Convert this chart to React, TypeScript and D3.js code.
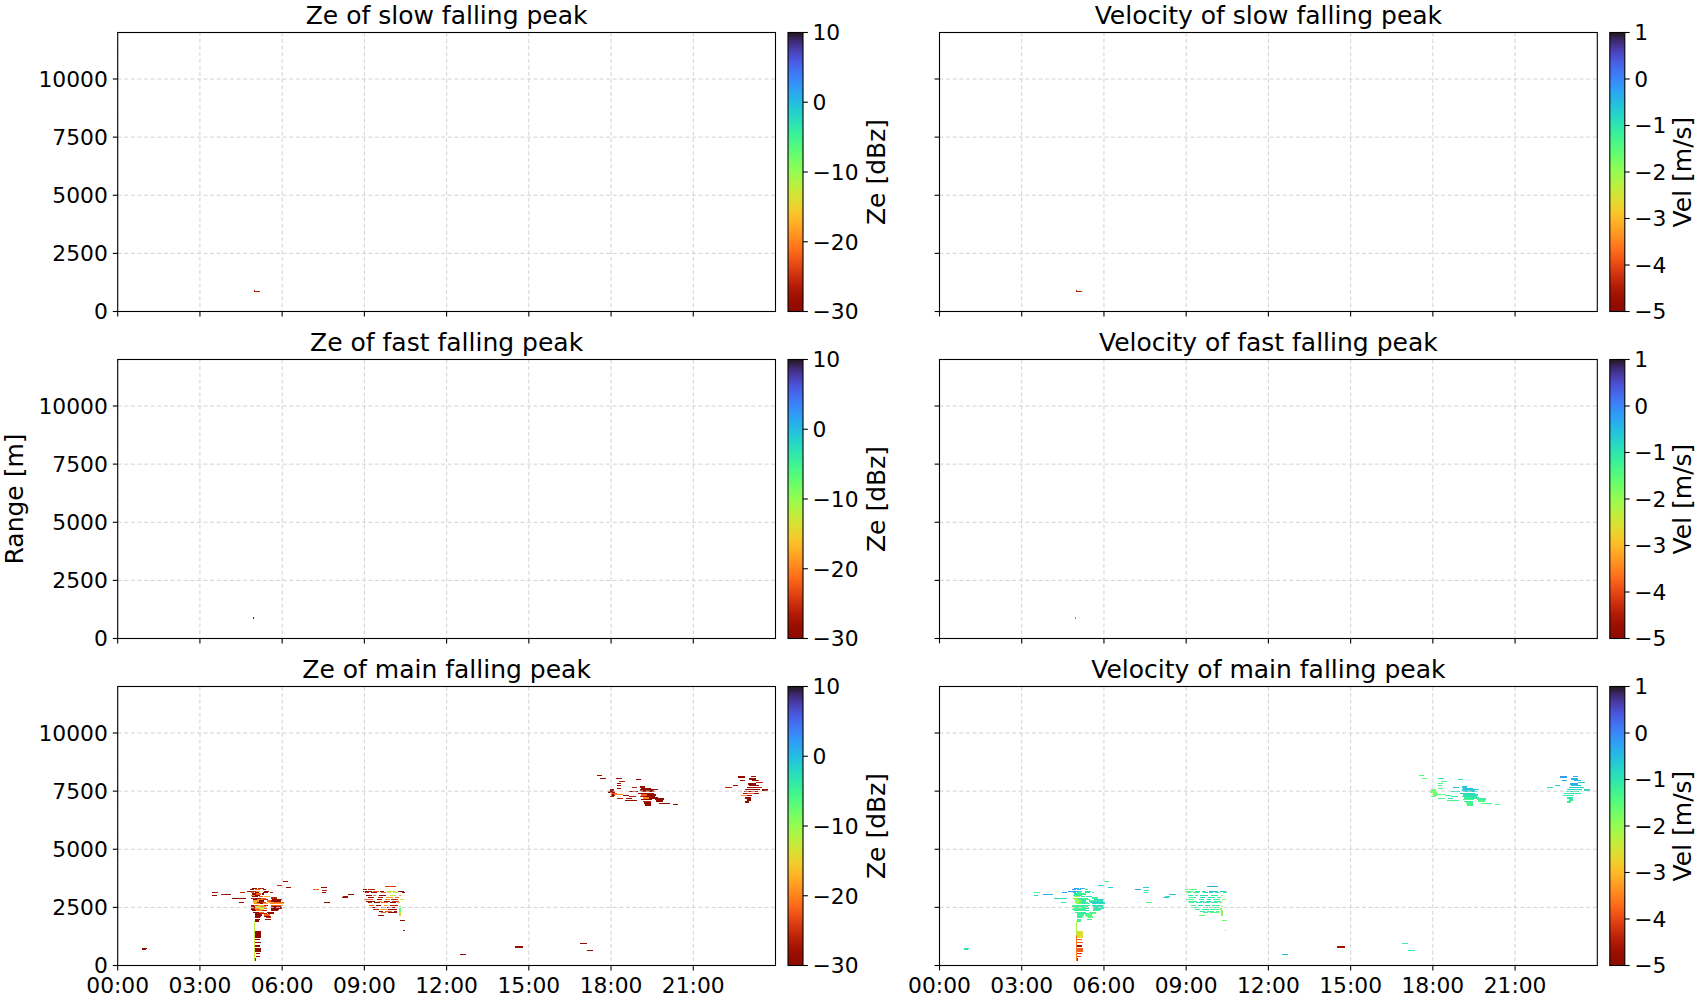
import React from 'react';
import * as d3 from 'd3';

// ---------- axis / scale data ----------
const timeDomain: [number, number] = [0, 24];
const rangeDomain: [number, number] = [0, 12000];
const timeTicks = [0, 3, 6, 9, 12, 15, 18, 21];
const timeTickLabels = ['00:00', '03:00', '06:00', '09:00', '12:00', '15:00', '18:00', '21:00'];
const rangeTicks = [0, 2500, 5000, 7500, 10000];
const zeDomain: [number, number] = [-30, 10];
const velDomain: [number, number] = [-5, 1];
const zeTicks = [10, 0, -10, -20, -30];
const velTicks = [1, 0, -1, -2, -3, -4, -5];

// cell: [time start (h), time end (h), range bottom (m), range top (m), Ze (dBz), Vel (m/s)]
type Cell = [number, number, number, number, number, number];

const slowCells: Cell[] = [
  [4.97, 5.19, 825, 870, -26, -4.4],
  [4.97, 5.0, 870, 910, -27, -4.4],
];

const fastCells: Cell[] = [
  [4.95, 4.99, 860, 905, -30, -3.7],
];

const mainClusterEarly: Cell[] = [
  [0.88, 1.08, 705, 750, -30, -0.9],
  [0.88, 1.05, 655, 700, -30, -1.0],
  [3.43, 3.55, 3130, 3175, -30, -1.3],
  [3.55, 3.65, 3130, 3175, -26, -1.3],
  [3.43, 3.61, 2970, 3015, -30, -0.8],
  [3.77, 3.94, 3040, 3085, -26, -0.3],
  [3.93, 4.15, 3030, 3075, -30, -0.4],
  [4.16, 4.67, 2850, 2895, -30, -0.9],
  [4.43, 4.61, 2680, 2725, -30, -1.1],
  [4.46, 4.65, 3110, 3155, -26, -0.2],
  [4.7, 4.86, 3150, 3195, -30, -0.1],
];

const mainClusterDawn: Cell[] = [
  [4.9, 5.1, 3290, 3340, -30, -0.3],
  [5.13, 5.32, 3290, 3340, -26, -0.5],
  [4.83, 4.98, 3230, 3280, -30, -0.2],
  [5.0, 5.18, 3230, 3280, -22, -0.3],
  [5.3, 5.42, 3230, 3280, -30, -1.2],
  [4.86, 5.05, 3170, 3220, -26, -0.4],
  [5.06, 5.2, 3170, 3220, -18, -0.8],
  [5.32, 5.52, 3150, 3220, -30, -1.0],
  [4.88, 4.98, 3110, 3160, -22, -0.6],
  [5.0, 5.15, 3110, 3160, -30, -1.3],
  [5.3, 5.5, 3110, 3160, -30, -0.9],
  [5.55, 5.65, 3110, 3160, -26, -1.2],
  [4.9, 5.05, 3050, 3100, -30, -1.0],
  [5.05, 5.22, 3050, 3100, -22, -1.2],
  [5.25, 5.35, 3050, 3100, -30, -1.4],
  [4.88, 5.0, 2990, 3040, -20, -1.1],
  [5.02, 5.2, 2990, 3040, -30, -1.0],
  [5.58, 5.8, 2880, 2930, -26, -1.2],
  [4.9, 5.12, 2930, 2980, -30, -2.0],
  [5.15, 5.3, 2930, 2980, -22, -1.1],
  [5.35, 5.55, 2930, 2980, -18, -0.9],
  [4.88, 5.0, 2870, 2920, -26, -2.0],
  [5.02, 5.22, 2870, 2920, -30, -1.0],
  [5.22, 5.42, 2870, 2920, -22, -1.3],
  [4.92, 5.1, 2810, 2860, -30, -2.1],
  [5.1, 5.3, 2810, 2860, -20, -1.2],
  [5.3, 5.5, 2810, 2860, -26, -1.1],
  [5.62, 6.0, 2810, 2860, -30, -0.9],
  [4.95, 5.15, 2750, 2800, -18, -1.9],
  [5.15, 5.35, 2750, 2800, -30, -1.0],
  [5.45, 5.6, 2750, 2800, -22, -1.2],
  [5.6, 5.95, 2750, 2800, -30, -1.0],
  [4.95, 5.1, 2690, 2740, -16, -2.0],
  [5.1, 5.28, 2690, 2740, -30, -1.1],
  [5.28, 5.42, 2690, 2740, -24, -1.2],
  [5.5, 5.7, 2690, 2740, -18, -0.6],
  [5.7, 6.05, 2690, 2740, -22, -0.7],
  [4.98, 5.2, 2630, 2680, -20, -1.8],
  [5.2, 5.3, 2630, 2680, -30, -0.9],
  [5.3, 5.5, 2630, 2680, -18, -1.3],
  [5.55, 5.75, 2630, 2680, -20, -0.8],
  [5.75, 6.05, 2630, 2680, -18, -0.9],
  [4.85, 4.98, 2570, 2620, -30, -1.4],
  [4.98, 5.15, 2570, 2620, -22, -1.2],
  [5.15, 5.35, 2570, 2620, -16, -1.0],
  [5.35, 5.5, 2570, 2620, -26, -1.3],
  [5.58, 6.02, 2570, 2620, -22, -1.0],
  [4.85, 5.0, 2510, 2560, -30, -1.2],
  [5.0, 5.2, 2510, 2560, -13, -1.1],
  [5.2, 5.42, 2510, 2560, -20, -1.3],
  [5.6, 5.95, 2510, 2560, -30, -0.9],
  [4.88, 5.02, 2450, 2500, -26, -1.5],
  [5.02, 5.15, 2450, 2500, -18, -1.4],
  [5.15, 5.32, 2450, 2500, -12, -1.2],
  [5.32, 5.45, 2450, 2500, -22, -1.0],
  [5.6, 6.0, 2450, 2500, -30, -1.0],
  [4.85, 5.0, 2390, 2440, -30, -1.3],
  [5.0, 5.2, 2390, 2440, -22, -1.1],
  [5.2, 5.35, 2390, 2440, -14, -1.2],
  [5.6, 5.9, 2390, 2440, -30, -1.1],
  [4.9, 5.05, 2330, 2380, -30, -1.0],
  [5.05, 5.25, 2330, 2380, -20, -1.3],
  [5.25, 5.45, 2330, 2380, -26, -1.0],
  [5.6, 5.85, 2330, 2380, -30, -1.2],
  [4.95, 5.15, 2270, 2320, -30, -1.2],
  [5.15, 5.35, 2270, 2320, -22, -1.1],
  [5.45, 5.7, 2270, 2320, -30, -1.3],
  [5.0, 5.2, 2210, 2260, -30, -1.1],
  [5.2, 5.45, 2210, 2260, -26, -1.0],
  [5.5, 5.72, 2210, 2260, -30, -1.5],
  [5.0, 5.28, 2150, 2200, -30, -1.3],
  [5.32, 5.55, 2150, 2200, -22, -1.5],
  [5.02, 5.22, 2090, 2140, -30, -1.2],
  [5.35, 5.6, 2090, 2140, -30, -1.6],
  [5.0, 5.2, 2030, 2080, -30, -1.0],
  [5.4, 5.6, 2030, 2080, -26, -1.5],
  [5.0, 5.18, 1960, 2020, -30, -1.2],
  [5.38, 5.58, 1960, 2020, -30, -1.1],
  [5.0, 5.15, 1890, 1950, -30, -1.3],
  [5.8, 6.0, 3420, 3465, -26, -0.8],
  [6.02, 6.2, 3570, 3615, -28, -1.3],
  [6.13, 6.32, 3320, 3365, -30, -0.7],
];

const mainColumn: Cell[] = [
  [4.97, 5.02, 1300, 1900, -12, -2.2],
  [4.97, 5.01, 200, 1300, -13, -3.6],
  [5.02, 5.22, 1200, 1490, -30, -2.6],
  [5.02, 5.2, 1085, 1140, -30, -3.8],
  [5.02, 5.22, 970, 1030, -30, -3.9],
  [5.02, 5.2, 800, 885, -30, -4.8],
  [5.02, 5.22, 600, 745, -30, -3.8],
  [5.03, 5.2, 485, 540, -30, -4.2],
  [5.03, 5.18, 370, 430, -30, -4.0],
  [5.0, 5.05, 180, 320, -28, -4.5],
];

const mainClusterMorning: Cell[] = [
  [7.14, 7.35, 3250, 3295, -22, -0.3],
  [7.42, 7.63, 3330, 3375, -30, -0.7],
  [7.45, 7.63, 3220, 3265, -26, -1.0],
  [7.47, 7.6, 3120, 3165, -30, -1.0],
  [7.54, 7.75, 2690, 2735, -30, -1.5],
  [8.17, 8.39, 2890, 2935, -30, -0.8],
  [8.22, 8.4, 2950, 2995, -30, -0.8],
  [8.39, 8.62, 3040, 3085, -30, -0.5],
  [9.75, 10.15, 3375, 3415, -24, -0.4],
  [8.96, 9.08, 3245, 3285, -30, -1.5],
  [9.12, 9.38, 3245, 3285, -26, -1.6],
  [8.96, 9.26, 3180, 3220, -30, -1.4],
  [9.32, 9.52, 3180, 3220, -22, -1.0],
  [9.58, 9.72, 3180, 3220, -30, -0.9],
  [9.82, 10.16, 3180, 3220, -13, -0.5],
  [10.22, 10.45, 3180, 3220, -30, -0.8],
  [9.02, 9.18, 3100, 3140, -26, -1.3],
  [9.24, 9.46, 3100, 3140, -30, -1.1],
  [9.62, 9.78, 3100, 3140, -22, -0.9],
  [9.82, 9.98, 3100, 3140, -14, -0.8],
  [10.06, 10.22, 3100, 3140, -11, -1.2],
  [10.36, 10.5, 3100, 3140, -30, -1.0],
  [9.06, 9.26, 3010, 3050, -30, -1.0],
  [9.32, 9.44, 3010, 3050, -20, -1.2],
  [9.52, 9.8, 3010, 3050, -30, -0.9],
  [9.92, 10.16, 3010, 3050, -13, -1.1],
  [10.26, 10.34, 3010, 3050, -18, -1.8],
  [9.12, 9.36, 2920, 2960, -30, -1.2],
  [9.5, 9.68, 2920, 2960, -26, -0.9],
  [9.8, 10.06, 2920, 2960, -18, -1.0],
  [10.12, 10.28, 2920, 2960, -22, -1.3],
  [9.0, 9.3, 2840, 2880, -22, -1.4],
  [9.46, 9.66, 2840, 2880, -30, -1.0],
  [9.76, 9.92, 2840, 2880, -20, -0.8],
  [9.98, 10.22, 2840, 2880, -26, -1.1],
  [10.3, 10.44, 2840, 2880, -14, -1.8],
  [9.06, 9.4, 2750, 2790, -30, -1.2],
  [9.5, 9.66, 2750, 2790, -18, -0.9],
  [9.72, 9.92, 2750, 2790, -30, -1.0],
  [10.02, 10.26, 2750, 2790, -24, -1.2],
  [9.12, 9.28, 2670, 2710, -26, -1.3],
  [9.36, 9.56, 2670, 2710, -30, -1.0],
  [9.62, 9.86, 2670, 2710, -22, -0.9],
  [9.92, 10.16, 2670, 2710, -30, -1.1],
  [10.2, 10.3, 2670, 2710, -16, -1.9],
  [9.16, 9.36, 2580, 2620, -22, -1.2],
  [9.42, 9.62, 2580, 2620, -30, -1.0],
  [9.7, 9.88, 2580, 2620, -18, -1.1],
  [9.94, 10.22, 2580, 2620, -26, -1.2],
  [9.22, 9.46, 2495, 2535, -30, -1.1],
  [9.6, 9.78, 2495, 2535, -24, -1.0],
  [9.84, 10.16, 2495, 2535, -30, -1.3],
  [10.27, 10.33, 2495, 2540, -8, -1.9],
  [9.32, 9.52, 2410, 2450, -26, -1.2],
  [9.58, 9.82, 2410, 2450, -18, -1.0],
  [9.88, 10.18, 2410, 2450, -30, -1.3],
  [10.25, 10.32, 2400, 2460, -6, -1.9],
  [9.52, 9.68, 2320, 2360, -30, -1.1],
  [9.76, 10.02, 2320, 2360, -22, -1.2],
  [10.08, 10.2, 2320, 2360, -30, -1.4],
  [10.26, 10.33, 2310, 2370, -8, -1.9],
  [9.62, 9.78, 2240, 2280, -22, -1.3],
  [9.88, 10.18, 2240, 2280, -30, -1.4],
  [10.28, 10.34, 2230, 2290, -12, -1.9],
  [9.48, 9.7, 2130, 2190, -30, -1.6],
  [10.28, 10.33, 2120, 2200, -16, -1.9],
  [10.3, 10.5, 1900, 1950, -30, -1.7],
  [10.42, 10.47, 1500, 1540, -30, -1.6],
];

const mainClusterIsolated: Cell[] = [
  [12.48, 12.71, 450, 500, -30, -0.5],
  [14.5, 14.78, 770, 820, -30, -4.6],
  [16.87, 17.11, 910, 960, -30, -1.2],
  [17.11, 17.35, 630, 680, -30, -1.1],
];

const mainClusterEvening: Cell[] = [
  [17.48, 17.66, 8140, 8190, -30, -1.5],
  [17.6, 17.8, 8020, 8070, -30, -1.6],
  [18.18, 18.4, 8020, 8070, -30, -1.0],
  [18.3, 18.52, 7900, 7950, -26, -1.2],
  [18.2, 18.38, 7810, 7860, -30, -1.4],
  [18.2, 18.35, 7710, 7760, -30, -1.3],
  [18.2, 18.38, 7600, 7650, -30, -1.5],
  [18.9, 19.1, 7970, 8020, -30, -0.9],
  [18.75, 18.95, 7620, 7670, -26, -0.5],
  [19.05, 19.25, 7650, 7700, -30, -0.6],
  [17.95, 18.1, 7520, 7570, -30, -1.6],
  [17.9, 18.15, 7440, 7490, -30, -1.7],
  [18.0, 18.2, 7380, 7430, -22, -1.8],
  [18.0, 18.15, 7310, 7360, -30, -1.6],
  [18.1, 18.45, 7330, 7380, -20, -1.5],
  [17.95, 18.1, 7230, 7280, -26, -1.7],
  [18.2, 18.45, 7170, 7220, -26, -1.4],
  [18.45, 18.65, 7270, 7320, -30, -1.2],
  [18.65, 19.0, 7450, 7500, -30, -0.9],
  [18.65, 18.9, 7260, 7310, -26, -1.1],
  [18.5, 18.95, 7060, 7110, -30, -1.3],
  [18.55, 18.75, 7160, 7210, -30, -1.0],
  [19.1, 19.45, 7590, 7650, -30, -0.5],
  [19.05, 19.55, 7520, 7580, -30, -0.6],
  [19.1, 19.35, 7450, 7510, -26, -0.8],
  [19.35, 19.6, 7450, 7510, -30, -0.7],
  [19.0, 19.3, 7380, 7440, -30, -0.9],
  [19.3, 19.55, 7380, 7440, -28, -0.8],
  [19.1, 19.3, 7310, 7370, -22, -1.0],
  [19.3, 19.65, 7310, 7370, -30, -0.9],
  [19.05, 19.25, 7240, 7300, -26, -1.1],
  [19.25, 19.6, 7240, 7300, -30, -1.0],
  [19.15, 19.4, 7170, 7230, -20, -1.2],
  [19.4, 19.7, 7170, 7230, -30, -1.1],
  [19.1, 19.5, 7100, 7160, -30, -1.3],
  [19.15, 19.45, 7030, 7090, -26, -1.2],
  [19.2, 19.45, 6960, 7020, -30, -1.4],
  [19.25, 19.45, 6880, 6940, -30, -1.3],
  [19.6, 19.95, 7130, 7190, -30, -1.2],
  [19.65, 19.9, 7040, 7100, -30, -1.4],
  [19.75, 20.15, 6950, 7000, -30, -1.5],
  [20.25, 20.45, 6910, 6960, -30, -1.5],
  [19.55, 19.7, 7560, 7610, -30, -0.8],
  [22.65, 22.9, 8080, 8160, -30, -0.2],
  [23.1, 23.3, 8120, 8170, -30, -0.3],
  [22.7, 22.9, 7920, 7970, -30, -0.3],
  [23.05, 23.3, 8000, 8050, -30, -0.4],
  [23.15, 23.4, 7930, 7990, -28, -0.5],
  [23.3, 23.55, 7840, 7900, -26, -0.6],
  [22.15, 22.4, 7640, 7690, -26, -0.8],
  [22.45, 22.63, 7730, 7780, -30, -0.7],
  [23.0, 23.3, 7780, 7840, -30, -0.4],
  [23.05, 23.4, 7700, 7760, -30, -0.6],
  [22.95, 23.3, 7620, 7680, -30, -0.7],
  [23.3, 23.5, 7620, 7680, -26, -0.8],
  [22.9, 23.2, 7540, 7600, -30, -0.8],
  [23.2, 23.45, 7540, 7600, -30, -0.9],
  [23.5, 23.72, 7520, 7570, -30, -0.8],
  [22.85, 23.1, 7460, 7520, -30, -0.9],
  [23.1, 23.35, 7460, 7520, -26, -1.0],
  [22.8, 22.95, 7360, 7420, -30, -1.1],
  [22.95, 23.2, 7380, 7440, -22, -0.9],
  [23.2, 23.4, 7380, 7440, -30, -1.0],
  [22.75, 22.95, 7270, 7330, -20, -1.2],
  [22.95, 23.15, 7270, 7330, -30, -1.1],
  [22.9, 23.1, 7170, 7230, -30, -1.0],
  [22.95, 23.1, 7080, 7140, -30, -1.1],
  [22.9, 23.05, 7000, 7060, -30, -1.2],
];

const mainCells: Cell[] = [
  ...mainClusterEarly,
  ...mainClusterDawn,
  ...mainColumn,
  ...mainClusterMorning,
  ...mainClusterIsolated,
  ...mainClusterEvening,
];

// ---------- layout ----------
const FONT = 'DejaVu Sans, Verdana, sans-serif';
const colX = [117.7, 939.5];
const rowY = [32.5, 359.5, 686.5];
const PW = 657.8;
const PH = 279;
const CB_GAP = 12.5;
const CB_W = 15;
const TICK = 4.9;
const TICK_FS = 21.8;
const TITLE_FS = 25;
const LABEL_FS = 25;

const fmtMinus = (v: number) => (v < 0 ? '\u2212' + Math.abs(v) : String(v));

interface PanelProps {
  id: string;
  x0: number;
  y0: number;
  title: string;
  cells: Cell[];
  field: number;
  domain: [number, number];
  cbTicks: number[];
  cbLabel: string;
  cbLabelOffset: number;
  showYLabels: boolean;
  showXLabels: boolean;
}

function Panel(p: PanelProps) {
  const { id, x0, y0, title, cells, field, domain, cbTicks, cbLabel, cbLabelOffset, showYLabels, showXLabels } = p;
  const xs = d3.scaleLinear().domain(timeDomain).range([x0, x0 + PW]);
  const ys = d3.scaleLinear().domain(rangeDomain).range([y0 + PH, y0]);
  const color = d3.scaleSequential(d3.interpolateTurbo).domain([domain[1], domain[0]]);
  const cbX = x0 + PW + CB_GAP;
  const cbScale = d3.scaleLinear().domain(domain).range([y0 + PH, y0]);
  const stops = d3.range(0, 1.0001, 0.02);
  const clipId = `clip-${id}`;
  const gradId = `grad-${id}`;

  return (
    <g>
      <defs>
        <clipPath id={clipId}>
          <rect x={x0} y={y0} width={PW} height={PH} />
        </clipPath>
        <linearGradient id={gradId} x1="0" y1="0" x2="0" y2="1">
          {stops.map((s) => (
            <stop key={s} offset={s} stopColor={d3.interpolateTurbo(s)} />
          ))}
        </linearGradient>
      </defs>

      {/* cells */}
      <g clipPath={`url(#${clipId})`}>
        {cells.map((c, i) => {
          const xa = xs(c[0]);
          const xb = xs(c[1]);
          const ya = ys(c[3]);
          const yb = ys(c[2]);
          return (
            <rect
              key={i}
              x={xa}
              y={ya}
              width={Math.max(1, xb - xa)}
              height={Math.max(1, yb - ya)}
              fill={color(c[field])}
              shapeRendering="crispEdges"
            />
          );
        })}
      </g>

      {/* grid */}
      <g stroke="#d2d2d2" strokeWidth={1} strokeDasharray="4,2.6">
        {timeTicks.map((t) => (
          <line key={`gx${t}`} x1={xs(t)} x2={xs(t)} y1={y0} y2={y0 + PH} />
        ))}
        {rangeTicks.map((r) => (
          <line key={`gy${r}`} x1={x0} x2={x0 + PW} y1={ys(r)} y2={ys(r)} />
        ))}
      </g>

      {/* frame */}
      <rect x={x0} y={y0} width={PW} height={PH} fill="none" stroke="#000" strokeWidth={1.1} />

      {/* ticks */}
      <g stroke="#000" strokeWidth={1.1}>
        {timeTicks.map((t) => (
          <line key={`xt${t}`} x1={xs(t)} x2={xs(t)} y1={y0 + PH} y2={y0 + PH + TICK} />
        ))}
        {rangeTicks.map((r) => (
          <line key={`yt${r}`} x1={x0 - TICK} x2={x0} y1={ys(r)} y2={ys(r)} />
        ))}
      </g>
      {showXLabels &&
        timeTicks.map((t, i) => (
          <text key={`xl${t}`} x={xs(t)} y={y0 + PH + 27.5} fontSize={TICK_FS} textAnchor="middle" fill="#000">
            {timeTickLabels[i]}
          </text>
        ))}
      {showYLabels &&
        rangeTicks.map((r) => (
          <text key={`yl${r}`} x={x0 - TICK - 5} y={ys(r)} dy="0.36em" fontSize={TICK_FS} textAnchor="end" fill="#000">
            {r}
          </text>
        ))}

      {/* title */}
      <text x={x0 + PW / 2} y={y0 - 8.5} fontSize={TITLE_FS} textAnchor="middle" fill="#000">
        {title}
      </text>

      {/* colorbar */}
      <rect x={cbX} y={y0} width={CB_W} height={PH} fill={`url(#${gradId})`} />
      <rect x={cbX} y={y0} width={CB_W} height={PH} fill="none" stroke="#000" strokeWidth={1.1} />
      {cbTicks.map((v) => (
        <g key={`cb${v}`}>
          <line x1={cbX + CB_W} x2={cbX + CB_W + TICK} y1={cbScale(v)} y2={cbScale(v)} stroke="#000" strokeWidth={1.1} />
          <text x={cbX + CB_W + 9.5} y={cbScale(v)} dy="0.36em" fontSize={TICK_FS} fill="#000">
            {fmtMinus(v)}
          </text>
        </g>
      ))}
      <text
        transform={`translate(${cbX + CB_W + cbLabelOffset},${y0 + PH / 2}) rotate(-90)`}
        fontSize={LABEL_FS}
        textAnchor="middle"
        fill="#000"
      >
        {cbLabel}
      </text>
    </g>
  );
}

const rowTitles = [
  ['Ze of slow falling peak', 'Velocity of slow falling peak'],
  ['Ze of fast falling peak', 'Velocity of fast falling peak'],
  ['Ze of main falling peak', 'Velocity of main falling peak'],
];
const rowCells = [slowCells, fastCells, mainCells];

export default function App() {
  return (
    <svg
      width={1700}
      height={1000}
      viewBox="0 0 1700 1000"
      style={{ position: 'absolute', left: 0, top: 0, background: '#fff' }}
      fontFamily={FONT}
    >
      <rect x={0} y={0} width={1700} height={1000} fill="#fff" />
      {rowY.map((y0, ri) => (
        <g key={ri}>
          <Panel
            id={`ze${ri}`}
            x0={colX[0]}
            y0={y0}
            title={rowTitles[ri][0]}
            cells={rowCells[ri]}
            field={4}
            domain={zeDomain}
            cbTicks={zeTicks}
            cbLabel="Ze [dBz]"
            cbLabelOffset={82}
            showYLabels={true}
            showXLabels={ri === 2}
          />
          <Panel
            id={`vel${ri}`}
            x0={colX[1]}
            y0={y0}
            title={rowTitles[ri][1]}
            cells={rowCells[ri]}
            field={5}
            domain={velDomain}
            cbTicks={velTicks}
            cbLabel="Vel [m/s]"
            cbLabelOffset={66}
            showYLabels={false}
            showXLabels={ri === 2}
          />
        </g>
      ))}
      <text
        transform={`translate(22.5,${rowY[1] + PH / 2}) rotate(-90)`}
        fontSize={LABEL_FS}
        textAnchor="middle"
        fill="#000"
      >
        Range [m]
      </text>
    </svg>
  );
}
